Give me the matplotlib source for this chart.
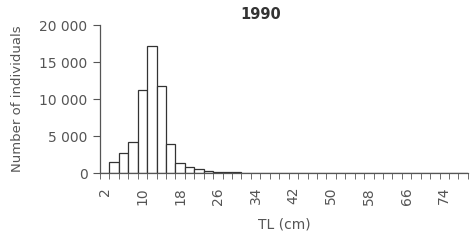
import matplotlib
matplotlib.use("Agg")
import matplotlib.pyplot as plt
import numpy as np

# Data
lengths_cm = list(range(2, 80, 2))  # TL categories 2..78
counts = [0, 1450, 2700, 4250, 11200, 17200, 11800, 3950, 1300, 800,
          500, 320, 200, 150, 150] + [0] * (len(lengths_cm) - 15)
tick_labels = [str(v) for v in lengths_cm[::4]]
title = "1990"

gray = "#555555"
plt.rcParams['font.family'] = ['DejaVu Sans']

fig = plt.figure(figsize=(4.76, 2.41), dpi=100)
ax = fig.add_axes([0.21, 0.282, 0.773, 0.614])

x = np.arange(len(lengths_cm))
ax.bar(x, counts, width=1.0, color="white", edgecolor="#333333", linewidth=0.9)

ax.set_xlim(-0.5, len(lengths_cm) - 0.5)
ax.set_ylim(0, 20000)

for s in ["top", "right"]:
    ax.spines[s].set_visible(False)
for s in ["left", "bottom"]:
    ax.spines[s].set_color(gray)
    ax.spines[s].set_linewidth(0.9)

ax.set_yticks([0, 5000, 10000, 15000, 20000])
ax.set_yticklabels(["0", "5 000", "10 000", "15 000", "20 000"])
ax.tick_params(axis="y", length=5, color=gray, labelcolor=gray, labelsize=10, pad=4)

ax.set_xticks(x[::4])
ax.set_xticklabels(tick_labels, rotation=90)
ax.set_xticks(np.arange(-0.5, len(lengths_cm)), minor=True)
ax.tick_params(axis="x", which="major", length=0, labelcolor=gray, labelsize=10, pad=10)
ax.tick_params(axis="x", which="minor", length=4, color=gray)

ax.set_xlabel("TL (cm)", color=gray, fontsize=10, labelpad=9)
ax.set_ylabel("Number of individuals", color=gray, fontsize=9.5, labelpad=11)

fig.text(0.548, 0.94, title, ha="center", va="center", fontsize=10.5,
         fontweight="bold", color="#333333")

fig.savefig("out.png", dpi=100, facecolor="white")
